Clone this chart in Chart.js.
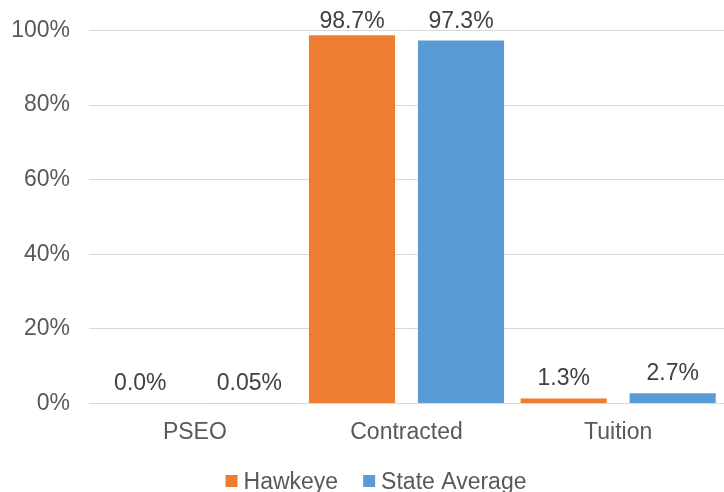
<!DOCTYPE html>
<html>
<head>
<meta charset="utf-8">
<script src="https://cdn.jsdelivr.net/npm/chart.js@4/dist/chart.umd.min.js"></script>
<style>
  html, body { margin: 0; padding: 0; background: #fff; }
  #chart { display: block; }
</style>
</head>
<body>
<canvas id="chart" width="724" height="492"></canvas>
<script>
// ─── Data ───
const categories = ['PSEO', 'Contracted', 'Tuition'];
const hawkeye = [0, 98.7, 1.3];
const stateAvg = [0.05, 97.3, 2.7];
const hawkeyeLabels = ['0.0%', '98.7%', '1.3%'];
const stateLabels = ['0.05%', '97.3%', '2.7%'];
const yTicks = [0, 20, 40, 60, 80, 100];

const FONT = '"Liberation Sans", Arial, sans-serif';

// value labels above each bar
const barLabels = {
    id: 'barLabels',
    afterDatasetsDraw(chart) {
        const ctx = chart.ctx;
        const top = chart.chartArea.top;
        ctx.save();
        ctx.font = `23px ${FONT}`;
        ctx.fillStyle = '#404040';
        ctx.textAlign = 'center';
        ctx.textBaseline = 'bottom';
        chart.data.datasets.forEach((ds, i) => {
            chart.getDatasetMeta(i).data.forEach((bar, j) => {
                const y = Math.max(bar.y - 8, top + 3);
                ctx.fillText(ds.labelsText[j], bar.x, y);
            });
        });
        ctx.restore();
    }
};

// bottom legend, Excel style (small square, tight gap to text)
const bottomLegend = {
    id: 'bottomLegend',
    afterDraw(chart) {
        const ctx = chart.ctx;
        const dsets = chart.data.datasets;
        ctx.save();
        ctx.font = `23px ${FONT}`;
        ctx.textBaseline = 'alphabetic';
        ctx.textAlign = 'left';
        const widths = dsets.map(d => ctx.measureText(d.label).width);
        const total = widths.reduce((a, w) => a + 12 + 6 + w, 0) + 25 * (dsets.length - 1);
        let x = (chart.width + 26) / 2 - total / 2 + 1;
        dsets.forEach((d, i) => {
            ctx.fillStyle = d.backgroundColor;
            ctx.fillRect(x, 475, 12, 12);
            ctx.fillStyle = '#595959';
            ctx.fillText(d.label, x + 18, 489);
            x += 12 + 6 + widths[i] + 25;
        });
        ctx.restore();
    }
};

new Chart(document.getElementById('chart'), {
    type: 'bar',
    data: {
        labels: categories,
        datasets: [
            { label: 'Hawkeye', data: hawkeye, labelsText: hawkeyeLabels, backgroundColor: '#ED7D31' },
            { label: 'State Average', data: stateAvg, labelsText: stateLabels, backgroundColor: '#5B9BD5' }
        ]
    },
    options: {
        responsive: false,
        animation: false,
        categoryPercentage: 1.03,
        barPercentage: 0.79,
        layout: { padding: { top: 20, right: 0, left: 0, bottom: 31 } },
        plugins: {
            legend: { display: false },
            tooltip: { enabled: false }
        },
        scales: {
            x: {
                grid: { display: false, drawTicks: false },
                border: { color: '#D9D9D9', width: 1 },
                ticks: { font: { family: FONT, size: 23 }, color: '#595959', padding: 15 }
            },
            y: {
                min: 0,
                max: 100,
                afterFit(axis) { axis.width = 89; },
                afterBuildTicks(axis) { axis.ticks = yTicks.map(v => ({ value: v })); },
                grid: { color: '#D9D9D9', drawTicks: false },
                border: { display: false },
                ticks: {
                    font: { family: FONT, size: 23, lineHeight: 1 },
                    color: '#595959',
                    padding: 19,
                    callback: v => v + '%'
                }
            }
        }
    },
    plugins: [barLabels, bottomLegend]
});
</script>
</body>
</html>
